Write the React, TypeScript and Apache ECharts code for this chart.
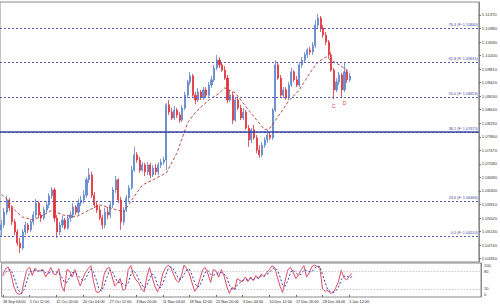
import React, { useEffect, useRef } from "react";
import * as echarts from "echarts";

// ---- data ----
const dateLabels = [
  "28 Sep 04:00", "5 Oct 12:00", "12 Oct 20:00", "20 Oct 04:00", "27 Oct 12:00",
  "3 Nov 20:00", "11 Nov 04:00", "18 Nov 12:00", "25 Nov 20:00", "3 Dec 04:00",
  "10 Dec 12:00", "17 Dec 20:00", "28 Dec 04:00", "5 Jan 12:00",
];
const BARS_PER_LABEL = 10;
const SLOT_COUNT = 180;

// [open, close, low, high]
const candles: number[][] = [
  [1.0518, 1.0532, 1.0500, 1.0546], [1.0532, 1.0569, 1.0523, 1.0581], [1.0569, 1.0604, 1.0561, 1.0616],
  [1.0604, 1.0581, 1.0572, 1.0610], [1.0581, 1.0541, 1.0532, 1.0587], [1.0541, 1.0512, 1.0503, 1.0549],
  [1.0512, 1.0480, 1.0472, 1.0520], [1.0480, 1.0466, 1.0451, 1.0495], [1.0466, 1.0512, 1.0460, 1.0520],
  [1.0512, 1.0532, 1.0503, 1.0541], [1.0532, 1.0518, 1.0509, 1.0538], [1.0518, 1.0541, 1.0512, 1.0549],
  [1.0541, 1.0561, 1.0532, 1.0572], [1.0561, 1.0595, 1.0552, 1.0607], [1.0595, 1.0561, 1.0552, 1.0601],
  [1.0561, 1.0552, 1.0541, 1.0569], [1.0552, 1.0575, 1.0546, 1.0584], [1.0575, 1.0590, 1.0567, 1.0601],
  [1.0590, 1.0616, 1.0581, 1.0624], [1.0616, 1.0633, 1.0607, 1.0641], [1.0633, 1.0552, 1.0541, 1.0639],
  [1.0552, 1.0512, 1.0495, 1.0561], [1.0512, 1.0532, 1.0503, 1.0541], [1.0532, 1.0546, 1.0523, 1.0558],
  [1.0546, 1.0523, 1.0518, 1.0552], [1.0523, 1.0552, 1.0518, 1.0561], [1.0552, 1.0561, 1.0541, 1.0572],
  [1.0561, 1.0584, 1.0552, 1.0595], [1.0584, 1.0569, 1.0561, 1.0590], [1.0569, 1.0595, 1.0561, 1.0607],
  [1.0595, 1.0604, 1.0587, 1.0616], [1.0604, 1.0618, 1.0595, 1.0633], [1.0618, 1.0662, 1.0610, 1.0670],
  [1.0662, 1.0676, 1.0653, 1.0696], [1.0676, 1.0618, 1.0610, 1.0685], [1.0618, 1.0590, 1.0581, 1.0627],
  [1.0590, 1.0575, 1.0567, 1.0601], [1.0575, 1.0552, 1.0546, 1.0587], [1.0552, 1.0532, 1.0520, 1.0561],
  [1.0532, 1.0569, 1.0523, 1.0581], [1.0569, 1.0561, 1.0549, 1.0584], [1.0561, 1.0590, 1.0552, 1.0601],
  [1.0590, 1.0633, 1.0581, 1.0641], [1.0633, 1.0662, 1.0624, 1.0673], [1.0662, 1.0604, 1.0595, 1.0667],
  [1.0604, 1.0541, 1.0518, 1.0613], [1.0541, 1.0575, 1.0532, 1.0584], [1.0575, 1.0610, 1.0569, 1.0618],
  [1.0610, 1.0639, 1.0601, 1.0647], [1.0639, 1.0690, 1.0633, 1.0702], [1.0690, 1.0734, 1.0685, 1.0757],
  [1.0734, 1.0719, 1.0711, 1.0742], [1.0719, 1.0690, 1.0682, 1.0728], [1.0690, 1.0705, 1.0685, 1.0713],
  [1.0705, 1.0685, 1.0673, 1.0711], [1.0685, 1.0705, 1.0676, 1.0713], [1.0705, 1.0676, 1.0667, 1.0711],
  [1.0676, 1.0696, 1.0670, 1.0705], [1.0696, 1.0685, 1.0676, 1.0708], [1.0685, 1.0705, 1.0676, 1.0713],
  [1.0705, 1.0713, 1.0696, 1.0722], [1.0713, 1.0719, 1.0705, 1.0728], [1.0719, 1.0878, 1.0690, 1.0883],
  [1.0878, 1.0857, 1.0849, 1.0892], [1.0857, 1.0840, 1.0834, 1.0869], [1.0840, 1.0863, 1.0834, 1.0875],
  [1.0863, 1.0849, 1.0840, 1.0869], [1.0849, 1.0834, 1.0826, 1.0857], [1.0834, 1.0869, 1.0829, 1.0878],
  [1.0869, 1.0906, 1.0863, 1.0915], [1.0906, 1.0944, 1.0898, 1.0950], [1.0944, 1.0961, 1.0935, 1.0973],
  [1.0961, 1.0906, 1.0901, 1.0967], [1.0906, 1.0892, 1.0880, 1.0915], [1.0892, 1.0915, 1.0886, 1.0927],
  [1.0915, 1.0898, 1.0892, 1.0921], [1.0898, 1.0921, 1.0892, 1.0929], [1.0921, 1.0906, 1.0898, 1.0929],
  [1.0906, 1.0935, 1.0901, 1.0944], [1.0935, 1.0950, 1.0927, 1.0961], [1.0950, 1.0984, 1.0944, 1.0993],
  [1.0984, 1.1007, 1.0978, 1.1022], [1.1007, 1.0993, 1.0984, 1.1016], [1.0993, 1.0978, 1.0973, 1.1001],
  [1.0978, 1.0955, 1.0950, 1.0990], [1.0955, 1.0892, 1.0883, 1.0964], [1.0892, 1.0906, 1.0886, 1.0921],
  [1.0906, 1.0834, 1.0823, 1.0915], [1.0834, 1.0892, 1.0829, 1.0901], [1.0892, 1.0869, 1.0863, 1.0901],
  [1.0869, 1.0840, 1.0834, 1.0878], [1.0840, 1.0857, 1.0834, 1.0869], [1.0857, 1.0811, 1.0806, 1.0863],
  [1.0811, 1.0777, 1.0757, 1.0820], [1.0777, 1.0806, 1.0768, 1.0811], [1.0806, 1.0783, 1.0777, 1.0820],
  [1.0783, 1.0748, 1.0739, 1.0791], [1.0748, 1.0734, 1.0725, 1.0762], [1.0734, 1.0762, 1.0728, 1.0771],
  [1.0762, 1.0777, 1.0754, 1.0785], [1.0777, 1.0791, 1.0768, 1.0806], [1.0791, 1.0783, 1.0777, 1.0800],
  [1.0783, 1.0863, 1.0777, 1.0869], [1.0863, 1.0993, 1.0857, 1.1007], [1.0993, 1.0955, 1.0950, 1.1001],
  [1.0955, 1.0906, 1.0901, 1.0964], [1.0906, 1.0921, 1.0898, 1.0929], [1.0921, 1.0898, 1.0892, 1.0929],
  [1.0898, 1.0935, 1.0892, 1.0944], [1.0935, 1.0973, 1.0929, 1.0984], [1.0973, 1.0950, 1.0944, 1.0978],
  [1.0950, 1.0935, 1.0929, 1.0961], [1.0935, 1.0993, 1.0929, 1.1001], [1.0993, 1.1007, 1.0984, 1.1016],
  [1.1007, 1.1022, 1.0999, 1.1030], [1.1022, 1.1036, 1.1013, 1.1042], [1.1036, 1.1030, 1.1022, 1.1045],
  [1.1030, 1.1050, 1.1022, 1.1059], [1.1050, 1.1108, 1.1042, 1.1122], [1.1108, 1.1128, 1.1099, 1.1140],
  [1.1128, 1.1099, 1.1088, 1.1134], [1.1099, 1.1079, 1.1071, 1.1108], [1.1079, 1.1059, 1.1050, 1.1088],
  [1.1059, 1.1022, 1.1013, 1.1065], [1.1022, 1.0978, 1.0973, 1.1030], [1.0978, 1.0921, 1.0895, 1.0984],
  [1.0921, 1.0944, 1.0915, 1.0955], [1.0944, 1.0964, 1.0935, 1.0973], [1.0964, 1.0921, 1.0901, 1.0970],
  [1.0921, 1.0973, 1.0915, 1.0999], [1.0973, 1.0950, 1.0941, 1.0978], [1.0950, 1.0961, 1.0944, 1.0970],
];

// dashed moving average: [bar index, price]
const maPoints: number[][] = [
  [0, 1.0620], [2, 1.0607], [5, 1.0575], [8, 1.0555], [12, 1.0546], [16, 1.0561], [19, 1.0575],
  [23, 1.0561], [28, 1.0555], [33, 1.0575], [37, 1.0590], [41, 1.0581], [46, 1.0569], [49, 1.0604],
  [53, 1.0647], [57, 1.0662], [62, 1.0682], [66, 1.0739], [70, 1.0826], [73, 1.0857], [78, 1.0892],
  [82, 1.0912], [84, 1.0927], [88, 1.0912], [92, 1.0872], [96, 1.0834], [99, 1.0806], [101, 1.0811],
  [105, 1.0855], [108, 1.0889], [112, 1.0921], [116, 1.0970], [119, 1.1001], [122, 1.1016],
  [127, 1.0993], [131, 1.0973],
];

const priceTicks = [
  1.1137, 1.1098, 1.1059, 1.102, 1.0981, 1.0942, 1.0903, 1.0864, 1.0825, 1.0786,
  1.0747, 1.0708, 1.0669, 1.063, 1.0591, 1.0552, 1.0513, 1.0474, 1.0435,
];
const fibRatios = ["0.0", "23.6", "38.2", "50.0", "61.8", "76.4"];
const fibPrices = [1.0451, 1.06466, 1.07675, 1.08653, 1.09631, 1.1084];
const supportPrice = 1.07675;

const stochK = [
  70, 88, 93, 70, 30, 8, 2, 5, 50, 85, 93, 65, 90, 80, 80, 85, 60, 75, 92, 70,
  68, 88, 30, 12, 85, 80, 60, 85, 55, 30, 55, 75, 88, 98, 45, 10, 8, 20, 70, 88,
  92, 60, 30, 40, 55, 15, 20, 85, 98, 65, 50, 40, 20, 10, 60, 92, 60, 30, 10, 30,
  72, 90, 100, 92, 70, 50, 42, 65, 100, 88, 70, 40, 12, 25, 55, 85, 92, 70, 42, 85,
  80, 60, 85, 65, 30, 5, 25, 20, 55, 48, 45, 60, 45, 60, 48, 65, 55, 70, 62, 75,
  85, 98, 92, 60, 30, 8, 50, 85, 92, 75, 55, 68, 85, 98, 60, 75, 95, 100, 95, 90,
  20, 12, 15, 5, 8, 25, 45, 83, 58, 50, 62, 72,
];
const stochD = [
  65, 75, 84, 84, 64, 36, 13, 5, 19, 47, 76, 81, 83, 78, 83, 82, 75, 73, 76, 79,
  77, 75, 62, 43, 42, 59, 75, 75, 67, 57, 47, 53, 73, 87, 77, 51, 21, 13, 33, 59,
  83, 80, 61, 43, 42, 37, 30, 40, 68, 83, 71, 52, 37, 23, 30, 54, 71, 61, 33, 23,
  37, 64, 87, 94, 87, 71, 54, 52, 69, 84, 86, 66, 41, 26, 31, 55, 77, 82, 68, 66,
  69, 75, 75, 70, 60, 33, 20, 17, 33, 41, 49, 51, 50, 55, 51, 58, 56, 63, 62, 69,
  74, 86, 92, 83, 61, 33, 29, 48, 76, 84, 74, 66, 69, 84, 81, 78, 77, 90, 97, 95,
  68, 41, 16, 11, 9, 13, 26, 51, 62, 64, 57, 61,
];
const stochTicks = [0, 20, 80, 100];
const stochLevels = [20, 80];

const waveLabels = ["C", "D"];
const waveIndex = [125, 129];
const wavePrices = [1.0875, 1.0884];

const FONT = "'Liberation Sans', Arial, sans-serif";

export default function App() {
  const ref = useRef<HTMLDivElement>(null);
  useEffect(() => {
    if (!ref.current) return;
    const chart = echarts.init(ref.current, null, { renderer: "svg" });
    const slots = Array.from({ length: SLOT_COUNT }, (_, i) =>
      i % BARS_PER_LABEL === 0 && i / BARS_PER_LABEL < dateLabels.length ? dateLabels[i / BARS_PER_LABEL] : ""
    );
    const lastClose = candles[candles.length - 1][1];

    const fibLines = fibPrices.map((p, i) => ({
      yAxis: p,
      lineStyle: { type: [2, 2], color: "#5a5ab8", width: 1 },
      label: {
        show: true,
        position: "insideEndTop",
        distance: 1,
        formatter: `${fibRatios[i]} (F: ${p.toFixed(5)})`,
        fontSize: 3.8,
        fontFamily: FONT,
        color: "#4646a0",
      },
    }));

    const option: any = {
      animation: false,
      backgroundColor: "#ffffff",
      textStyle: { fontFamily: FONT },
      grid: [
        { left: 0, top: 2, width: 481, height: 260, show: true, borderColor: "#8a8a8a", borderWidth: 1, backgroundColor: "transparent" },
        { left: 0, top: 263, width: 481, height: 34, show: true, borderColor: "#8a8a8a", borderWidth: 1, backgroundColor: "transparent" },
      ],
      xAxis: [
        {
          type: "category", gridIndex: 0, data: slots, boundaryGap: true,
          axisLine: { show: false }, axisTick: { show: false }, axisLabel: { show: false }, splitLine: { show: false },
        },
        {
          type: "category", gridIndex: 1, data: slots, boundaryGap: true,
          axisLine: { show: false },
          axisTick: { show: true, alignWithLabel: true, length: 2, interval: (_i: number, v: string) => v !== "", lineStyle: { color: "#666" } },
          axisLabel: { show: true, interval: 0, align: "left", fontSize: 3.8, color: "#222", margin: 2.5, fontFamily: FONT },
          splitLine: { show: false },
        },
      ],
      yAxis: [
        {
          type: "value", gridIndex: 0, position: "right", min: 1.04254, max: 1.11742, scale: true,
          axisLine: { show: true, lineStyle: { color: "#8a8a8a" } },
          axisTick: { show: true, length: 2, customValues: priceTicks, lineStyle: { color: "#666" } },
          axisLabel: {
            show: true, customValues: priceTicks, fontSize: 4.2, color: "#333", margin: 3, fontFamily: FONT,
            formatter: (v: number) => v.toFixed(5),
          },
          splitLine: { show: false },
        },
        {
          type: "value", gridIndex: 1, position: "right", min: -7, max: 107,
          axisLine: { show: true, lineStyle: { color: "#8a8a8a" } },
          axisTick: { show: false },
          axisLabel: { show: true, customValues: stochTicks, fontSize: 4, color: "#333", margin: 3, fontFamily: FONT },
          splitLine: { show: false },
        },
      ],
      series: [
        {
          type: "candlestick",
          xAxisIndex: 0, yAxisIndex: 0,
          data: candles,
          barWidth: 1.6,
          itemStyle: { color: "#6a8fd2", borderColor: "#5b84c8", color0: "#e8323c", borderColor0: "#e0303a", borderWidth: 0.8 },
          markLine: {
            silent: true, symbol: ["none", "none"], animation: false,
            data: [
              ...fibLines,
              { yAxis: supportPrice, lineStyle: { type: "solid", color: "#3a46a0", width: 1.5 }, label: { show: false } },
              {
                yAxis: lastClose,
                lineStyle: { opacity: 0, width: 0 },
                label: {
                  show: true, position: "end", distance: 1, formatter: lastClose.toFixed(5),
                  backgroundColor: "#000", color: "#fff", fontSize: 4.2, padding: [1, 2, 1, 2], fontFamily: FONT,
                },
              },
            ],
          },
          markPoint: {
            symbol: "circle", symbolSize: 0, animation: false,
            data: waveLabels.map((t, i) => ({
              coord: [waveIndex[i], wavePrices[i]],
              label: { show: true, formatter: t, color: "#e03a3a", fontSize: 5, fontFamily: FONT },
            })),
          },
        },
        {
          type: "line", xAxisIndex: 0, yAxisIndex: 0, data: maPoints,
          showSymbol: false, symbol: "none",
          lineStyle: { color: "#b03a3a", width: 0.9, type: [3, 2] },
        },
        {
          type: "line", xAxisIndex: 1, yAxisIndex: 1, data: stochK,
          showSymbol: false, symbol: "none",
          lineStyle: { color: "#e04a64", width: 1 },
          markLine: {
            silent: true, symbol: ["none", "none"], animation: false,
            label: { show: false },
            data: stochLevels.map((v) => ({ yAxis: v, lineStyle: { color: "#b0b0b0", type: [1, 2], width: 1 } })),
          },
        },
        {
          type: "line", xAxisIndex: 1, yAxisIndex: 1, data: stochD,
          showSymbol: false, symbol: "none",
          lineStyle: { color: "#3838b8", width: 1, type: [2, 2] },
        },
      ],
    };
    chart.setOption(option);
    return () => chart.dispose();
  }, []);
  return (
    <div style={{ position: "fixed", left: 0, top: 0, width: 500, height: 307, background: "#fff" }}>
      <div ref={ref} style={{ width: 500, height: 307 }} />
    </div>
  );
}
